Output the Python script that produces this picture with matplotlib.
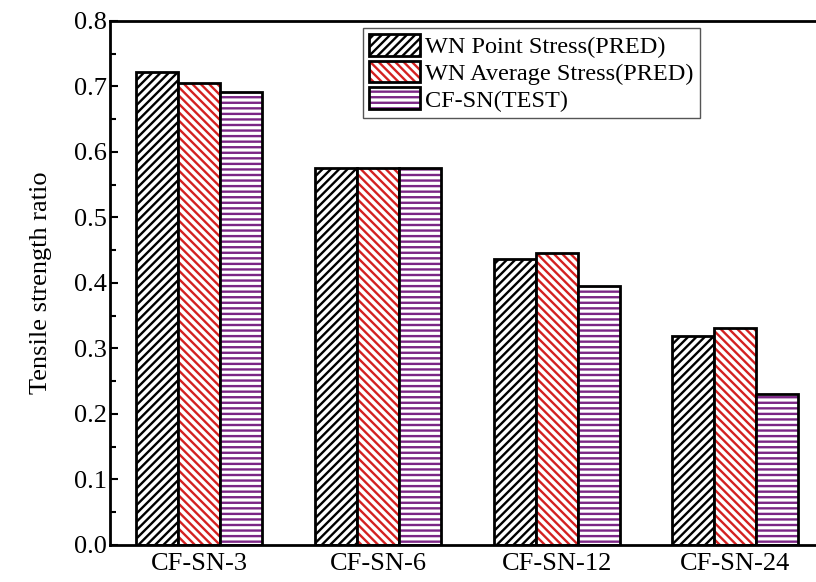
import numpy as np
import matplotlib
matplotlib.use("Agg")
import matplotlib.pyplot as plt

plt.rcParams['font.family'] = ['Liberation Serif', 'DejaVu Serif']
plt.rcParams['hatch.linewidth'] = 1.7

# Tensile strength ratio per specimen
categories = ["CF-SN-3", "CF-SN-6", "CF-SN-12", "CF-SN-24"]
point_stress = [0.722, 0.575, 0.436, 0.319]
average_stress = [0.706, 0.575, 0.445, 0.331]
test_values = [0.692, 0.575, 0.396, 0.231]

series = [
    ("WN Point Stress(PRED)", point_stress, "////", "black"),
    ("WN Average Stress(PRED)", average_stress, "\\\\\\\\", "#d42020"),
    ("CF-SN(TEST)", test_values, "---", "#7b2585"),
]

fig = plt.figure(figsize=(8.16, 5.82), dpi=100)
ax = fig.add_axes([0.1348, 0.0636, 0.876, 0.9004])

x = np.arange(len(categories))
width = 0.235
handles = []
for i, (label, vals, hatch, color) in enumerate(series):
    pos = x + (i - 1) * width
    # hatch in the series colour, then a black outline on top
    hb = ax.bar(pos, vals, width, color="white", hatch=hatch,
                edgecolor=color, linewidth=0)
    ob = ax.bar(pos, vals, width, fill=False, edgecolor="black", linewidth=2)
    handles.append((hb[0], ob[0]))

ax.set_xlim(-0.5, 3.5)
ax.set_ylim(0, 0.8)
ax.set_xticks(x)
ax.set_xticklabels(categories, fontsize=19)
ax.set_yticks(np.arange(0, 0.81, 0.1))
ax.set_yticklabels([f"{v:.1f}" for v in np.arange(0, 0.81, 0.1)], fontsize=19)
ax.set_yticks(np.arange(0.05, 0.8, 0.1), minor=True)
ax.tick_params(axis='y', which='major', direction='in', length=6, width=1.5, pad=2)
ax.tick_params(axis='y', which='minor', direction='in', length=4, width=1.5)
ax.tick_params(axis='x', length=0, pad=6)
for s in ax.spines.values():
    s.set_linewidth(2)
ax.set_ylabel("Tensile strength ratio", fontsize=19, labelpad=16)

ax.legend(handles, [s[0] for s in series], loc="upper left",
          bbox_to_anchor=(363 / 816, 1 - 28 / 582), bbox_transform=fig.transFigure,
          fontsize=17.5, fancybox=False, edgecolor="#555555", framealpha=1,
          handlelength=2.1, handleheight=1.0, labelspacing=0.1,
          handletextpad=0.2, borderpad=0.25, borderaxespad=0)

fig.savefig("out.png", dpi=100)
